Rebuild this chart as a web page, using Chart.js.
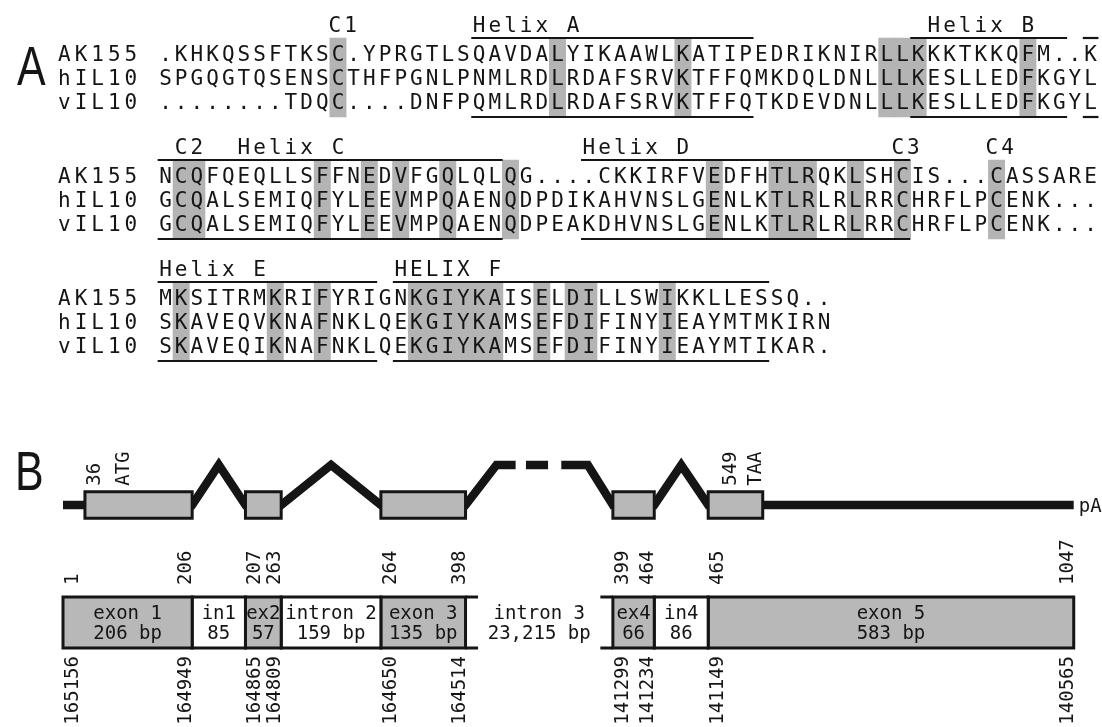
<!DOCTYPE html>
<html>
<head>
<meta charset="utf-8">
<script src="https://cdn.jsdelivr.net/npm/chart.js@4/dist/chart.umd.min.js"></script>
<style>
  html, body { margin: 0; padding: 0; background: #fff; }
  canvas { display: block; }
</style>
</head>
<body>
<canvas id="fig" width="1102" height="727"></canvas>
<script>
// ---------- Panel A: alignment of AK155 with human and viral IL-10 ----------
const species = ['AK155', 'hIL10', 'vIL10'];
const seqAK155 = [
  '.KHKQSSFTKSC.YPRGTLSQAVDALYIKAAWLKATIPEDRIKNIRLLKKKTKKQFM..K',
  'NCQFQEQLLSFFNEDVFGQLQLQG....CKKIRFVEDFHTLRQKLSHCIS...CASSARE',
  'MKSITRMKRIFYRIGNKGIYKAISELDILLSWIKKLLESSQ..'
];
const seqHIL10 = [
  'SPGQGTQSENSCTHFPGNLPNMLRDLRDAFSRVKTFFQMKDQLDNLLLKESLLEDFKGYL',
  'GCQALSEMIQFYLEEVMPQAENQDPDIKAHVNSLGENLKTLRLRLRRCHRFLPCENK...',
  'SKAVEQVKNAFNKLQEKGIYKAMSEFDIFINYIEAYMTMKIRN'
];
const seqVIL10 = [
  '........TDQC....DNFPQMLRDLRDAFSRVKTFFQTKDEVDNLLLKESLLEDFKGYL',
  'GCQALSEMIQFYLEEVMPQAENQDPEAKDHVNSLGENLKTLRLRLRRCHRFLPCENK...',
  'SKAVEQIKNAFNKLQEKGIYKAMSEFDIFINYIEAYMTIKAR.'
];
// alignment columns shaded as identical in all three sequences (per block)
const conservedColumns = [
  [11, 25, 33, 46, 47, 48, 55],
  [1, 2, 10, 13, 15, 18, 22, 35, 39, 40, 41, 44, 47, 53],
  [1, 7, 10, 16, 17, 18, 19, 20, 21, 24, 26, 27, 32]
];
// helix extents [first column, last column] per block
const helixSpans = [
  [[20, 37], [48, 57], [59, 59]],
  [[0, 21], [27, 47]],
  [[0, 13], [15, 38]]
];
// motif captions [text, starting column] per block
const motifLabels = [
  [['C1', 10.8], ['Helix A', 20], ['Helix B', 49]],
  [['C2', 1], ['Helix C', 5], ['Helix D', 27], ['C3', 46.7], ['C4', 52.7]],
  [['Helix E', 0], ['HELIX F', 15]]
];

// ---------- Panel B: exon / intron organisation ----------
const segmentNames   = ['exon 1', 'in1', 'ex2', 'intron 2', 'exon 3', 'intron 3', 'ex4', 'in4', 'exon 5'];
const segmentSizes   = ['206 bp', '85', '57', '159 bp', '135 bp', '23,215 bp', '66', '86', '583 bp'];
const segmentLengths = [206, 85, 57, 159, 135, 23215, 66, 86, 583];
const segmentIsExon  = [true, false, true, false, true, false, true, false, true];
const mrnaBoundaries    = [1, 206, 207, 263, 264, 398, 399, 464, 465, 1047];
const genomicBoundaries = [165156, 164949, 164865, 164809, 164650, 164514, 141299, 141234, 141149, 140565];
const startCodon = 36;   // ATG
const stopCodon = 549;   // TAA

// ---------- layout ----------
const W = 1102, H = 727;
const INK = '#151515', SHADE = '#b4b4b4', EXON_FILL = '#b8b8b8';
const COL_W = 15.68, SEQ_X0 = 165.5;               // column pitch, centre of column 0
const ROW_H = 24, ALIGN_Y0 = 38, BLOCK_STEP = 122 / 24;
const ROW_OFF = 15.5 / 24, RULE_LOW = 79 / 24;     // first row centre / lower rule, from upper rule
const NAME_COL = -6.45, NAME_PITCH = 1.06, LABEL_GAP = 6 / 24, CAP_HALF = 7.6;
const SEQ_FONT = '21px "DejaVu Sans Mono"';
const BP_PX = 0.627, GENE_X0 = 63, BROKEN_SPAN = 235; // long intron drawn shortened
const GENE_UNIT = 40, GENE_Y0 = 505;
const BOX_HALF = 0.33, PEAK = 1;
const BAR_TOP = -2.3, BAR_BOTTOM = -3.575, BAR_LINE1 = -2.725, BAR_LINE2 = -3.225;
const NUM_FONT = '19px "DejaVu Sans Mono"', BAR_FONT = '19px "DejaVu Sans Mono"';

const shownLength = len => (len > 5000 ? BROKEN_SPAN : len);
const segStart = [], segEnd = [];
segmentLengths.reduce((acc, len) => { segStart.push(acc); segEnd.push(acc + shownLength(len)); return acc + shownLength(len); }, 0);
const exonSegs = segmentIsExon.map((e, i) => (e ? i : -1)).filter(i => i >= 0);
const exonFirst = exonSegs.map((_, k) => mrnaBoundaries[2 * k]);
const exonLast = exonSegs.map((_, k) => mrnaBoundaries[2 * k + 1]);
function mrnaToGene(p, atEnd) {
  const k = exonFirst.findIndex((f, i) => p >= f && p <= exonLast[i]);
  return segStart[exonSegs[k]] + (p - exonFirst[k]) + (atEnd ? 1 : 0);
}
const cdsStart = mrnaToGene(startCodon, false);
const cdsEnd = mrnaToGene(stopCodon + 2, true);

// ---------- datasets ----------
const datasets = [];
const shadeData = [];
conservedColumns.forEach((cols, b) => cols.forEach(c => shadeData.push({ x: c, y: [b * BLOCK_STEP, b * BLOCK_STEP + RULE_LOW] })));
datasets.push({
  type: 'bar', label: 'identical residues', data: shadeData, xAxisID: 'x', yAxisID: 'y',
  backgroundColor: SHADE, borderWidth: 0, barThickness: COL_W + 0.6, grouped: false, order: 6
});
helixSpans.forEach((spans, b) => spans.forEach(([c0, c1]) => [0, RULE_LOW].forEach(off => {
  const yy = b * BLOCK_STEP + off;
  datasets.push({
    type: 'line', data: [{ x: c0 - 0.5, y: yy }, { x: c1 + 0.5, y: yy }], xAxisID: 'x', yAxisID: 'y',
    borderColor: INK, borderWidth: 2.2, pointRadius: 0, fill: false, order: 2
  });
})));

function rectPath(x0, x1, y0, y1) {
  return [{ x: x0, y: y0 }, { x: x1, y: y0 }, { x: x1, y: y1 }, { x: x0, y: y1 }, { x: x0, y: y0 }];
}
function boxDataset(path, fillColor, order) {
  return {
    type: 'line', data: path, xAxisID: 'x2', yAxisID: 'y2', borderColor: INK, borderWidth: 3,
    backgroundColor: fillColor, fill: 'shape', pointRadius: 0, tension: 0,
    borderJoinStyle: 'miter', borderCapStyle: 'square', order
  };
}

// transcript backbone with intron zig-zags; the long intron is drawn broken
const backbone = [];
segmentLengths.forEach((len, i) => {
  const s = segStart[i], e = segEnd[i];
  if (segmentIsExon[i]) {
    backbone.push({ x: s, y: 0 }, { x: e, y: 0 });
  } else if (len > 5000) {
    const L = e - s, at = f => s + f * L;
    backbone.push({ x: at(0.21), y: PEAK }, { x: at(0.34), y: PEAK }, { x: at(0.34), y: null },
      { x: at(0.41), y: PEAK }, { x: at(0.56), y: PEAK }, { x: at(0.56), y: null },
      { x: at(0.65), y: PEAK }, { x: at(0.83), y: PEAK });
  } else {
    backbone.push({ x: (s + e) / 2, y: PEAK });
  }
});
datasets.push({
  type: 'line', data: backbone, xAxisID: 'x2', yAxisID: 'y2', borderColor: INK, borderWidth: 8.5,
  pointRadius: 0, fill: false, tension: 0, borderJoinStyle: 'miter', borderCapStyle: 'butt', spanGaps: false, order: 4
});
// coding boxes
exonSegs.forEach((si, k) => {
  const x0 = k === 0 ? cdsStart : segStart[si];
  const x1 = k === exonSegs.length - 1 ? cdsEnd : segEnd[si];
  datasets.push(boxDataset(rectPath(x0, x1, BOX_HALF, -BOX_HALF), EXON_FILL, 1));
});
// structure bar
segmentLengths.forEach((len, i) => {
  const s = segStart[i], e = segEnd[i];
  if (len > 5000) {
    const stub = 0.085 * (e - s);
    const path = [];
    [BAR_TOP, BAR_BOTTOM].forEach(yy => {
      path.push({ x: s, y: yy }, { x: s + stub, y: yy }, { x: s + stub, y: null },
        { x: e - stub, y: yy }, { x: e, y: yy }, { x: e, y: null });
    });
    datasets.push({
      type: 'line', data: path, xAxisID: 'x2', yAxisID: 'y2', borderColor: INK, borderWidth: 3,
      pointRadius: 0, fill: false, tension: 0, spanGaps: false, order: 3
    });
  } else {
    datasets.push(boxDataset(rectPath(s, e, BAR_TOP, BAR_BOTTOM), segmentIsExon[i] ? EXON_FILL : '#ffffff', 3));
  }
});

// ---------- text ----------
function putCells(ctx, xs, str, col0, base, pitch = 1) {
  for (let i = 0; i < str.length; i++) {
    if (str[i] !== ' ') ctx.fillText(str[i], xs.getPixelForValue(col0 + i * pitch), base);
  }
}
function rotated(ctx, text, px, py, align) {
  ctx.save();
  ctx.translate(px, py);
  ctx.rotate(-Math.PI / 2);
  ctx.textAlign = align;
  ctx.textBaseline = 'alphabetic';
  ctx.fillText(text, 0, 0);
  ctx.restore();
}
function panelLetter(ctx, letter, px, base) {
  ctx.save();
  ctx.font = '55px "Liberation Sans"';
  ctx.textAlign = 'left';
  ctx.textBaseline = 'alphabetic';
  ctx.translate(px, base);
  ctx.scale(0.78, 1);
  ctx.fillText(letter, 0, 0);
  ctx.restore();
}

const figureText = {
  id: 'figureText',
  afterDatasetsDraw(chart) {
    const ctx = chart.ctx;
    const { x, y, x2, y2 } = chart.scales;
    ctx.save();
    ctx.fillStyle = INK;

    // alignment letters
    ctx.font = SEQ_FONT;
    ctx.textAlign = 'center';
    ctx.textBaseline = 'alphabetic';
    const rows = [seqAK155, seqHIL10, seqVIL10];
    for (let b = 0; b < seqAK155.length; b++) {
      const top = b * BLOCK_STEP;
      rows.forEach((seq, r) => {
        const base = y.getPixelForValue(top + ROW_OFF + r) + CAP_HALF;
        putCells(ctx, x, species[r], NAME_COL, base, NAME_PITCH);
        putCells(ctx, x, seq[b], 0, base);
      });
      motifLabels[b].forEach(([t, c]) => putCells(ctx, x, t, c, y.getPixelForValue(top - LABEL_GAP)));
    }
    panelLetter(ctx, 'A', 17, y.getPixelForValue(ROW_OFF + 1) + CAP_HALF);

    // gene diagram captions
    const lineY = y2.getPixelForValue(0);
    panelLetter(ctx, 'B', 15, lineY - 15);
    ctx.font = NUM_FONT;
    const boxTop = y2.getPixelForValue(BOX_HALF);
    const atg = x2.getPixelForValue(cdsStart);
    rotated(ctx, String(startCodon), atg + 15, boxTop - 6, 'left');
    rotated(ctx, 'ATG', atg + 44, boxTop - 6, 'left');
    const taa = x2.getPixelForValue(cdsEnd);
    rotated(ctx, String(stopCodon), taa - 27, boxTop - 6, 'left');
    rotated(ctx, 'TAA', taa - 2, boxTop - 6, 'left');
    ctx.textAlign = 'left';
    ctx.textBaseline = 'middle';
    ctx.fillText('pA', x2.getPixelForValue(segEnd[segEnd.length - 1]) + 5, lineY + 2);

    // boundary coordinates above and below the bar
    const barTopPx = y2.getPixelForValue(BAR_TOP), barBotPx = y2.getPixelForValue(BAR_BOTTOM);
    mrnaBoundaries.forEach((v, i) => {
      const k = Math.floor(i / 2), isStart = i % 2 === 0;
      const px = x2.getPixelForValue(isStart ? segStart[exonSegs[k]] : segEnd[exonSegs[k]]);
      const bx = isStart ? px + 15 : px - 1;
      rotated(ctx, String(v), bx, barTopPx - 12, 'left');
      rotated(ctx, String(genomicBoundaries[i]), bx, barBotPx + 8, 'right');
    });

    // labels inside the bar
    ctx.font = BAR_FONT;
    ctx.textAlign = 'center';
    ctx.textBaseline = 'middle';
    segmentNames.forEach((name, i) => {
      const cx = x2.getPixelForValue((segStart[i] + segEnd[i]) / 2);
      ctx.fillText(name, cx, y2.getPixelForValue(BAR_LINE1));
      ctx.fillText(segmentSizes[i], cx, y2.getPixelForValue(BAR_LINE2));
    });
    ctx.restore();
  }
};

// ---------- chart ----------
const hidden = { display: false, offset: false, bounds: 'data', grid: { display: false }, ticks: { display: false } };
new Chart(document.getElementById('fig'), {
  type: 'bar',
  data: { datasets },
  options: {
    responsive: false,
    devicePixelRatio: 1,
    animation: false,
    events: [],
    layout: { padding: 0 },
    plugins: { legend: { display: false }, tooltip: { enabled: false }, title: { display: false } },
    scales: {
      x:  { ...hidden, type: 'linear', min: -SEQ_X0 / COL_W, max: (W - SEQ_X0) / COL_W },
      y:  { ...hidden, type: 'linear', reverse: true, min: -ALIGN_Y0 / ROW_H, max: (H - ALIGN_Y0) / ROW_H },
      x2: { ...hidden, type: 'linear', min: -GENE_X0 / BP_PX, max: (W - GENE_X0) / BP_PX },
      y2: { ...hidden, type: 'linear', min: (GENE_Y0 - H) / GENE_UNIT, max: GENE_Y0 / GENE_UNIT }
    }
  },
  plugins: [figureText]
});
</script>
</body>
</html>
